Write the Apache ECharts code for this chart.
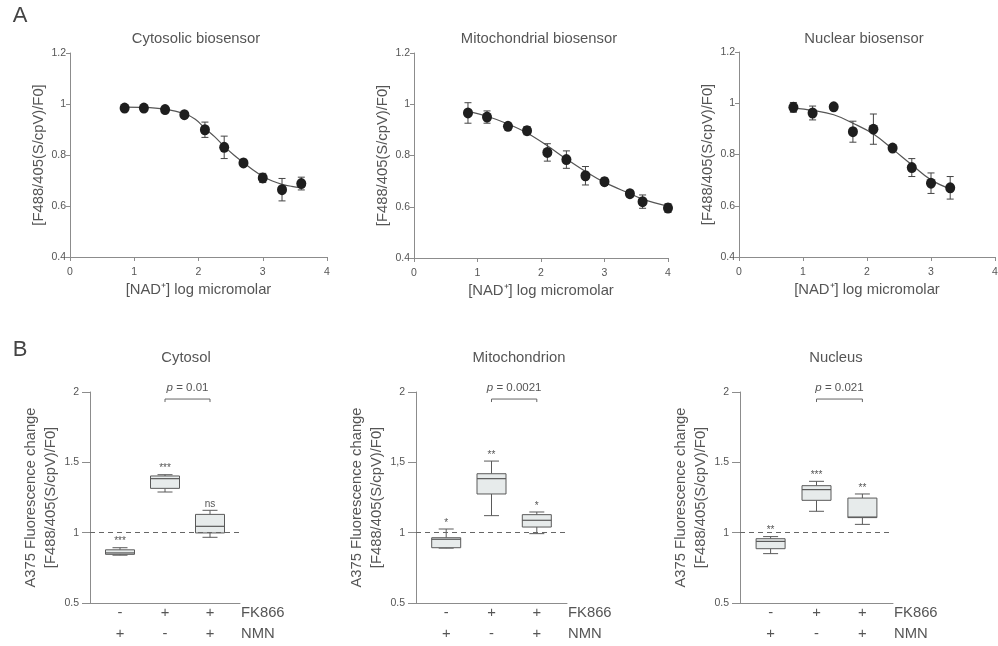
<!DOCTYPE html>
<html><head><meta charset="utf-8">
<script src="https://cdn.jsdelivr.net/npm/echarts@6/dist/echarts.min.js"></script>
<style>html,body{margin:0;padding:0;background:#fff}#c{width:998px;height:646px}</style>
</head><body><div id="c"></div>
<script>
// ---------- Panel A: dose-response data ----------
const cytoX   = [0.85, 1.15, 1.48, 1.78, 2.1, 2.4, 2.7, 3.0, 3.3, 3.6];
const cytoY   = [0.984, 0.984, 0.978, 0.958, 0.899, 0.830, 0.769, 0.710, 0.664, 0.688];
const cytoErr = [0.006, 0.006, 0.006, 0.006, 0.030, 0.044, 0.014, 0.018, 0.044, 0.025];
const cytoFitX = [0.85, 1.15, 1.48, 1.78, 1.95, 2.1, 2.25, 2.4, 2.55, 2.7, 2.85, 3.0, 3.15, 3.3, 3.45, 3.6];
const cytoFitY = [0.988, 0.987, 0.980, 0.962, 0.940, 0.905, 0.872, 0.834, 0.800, 0.770, 0.741, 0.716, 0.698, 0.685, 0.677, 0.672];

const mitoX   = [0.85, 1.15, 1.48, 1.78, 2.1, 2.4, 2.7, 3.0, 3.4, 3.6, 4.0];
const mitoY   = [0.966, 0.950, 0.914, 0.897, 0.812, 0.784, 0.721, 0.698, 0.651, 0.620, 0.595];
const mitoErr = [0.040, 0.024, 0.010, 0.016, 0.034, 0.034, 0.036, 0.014, 0.012, 0.026, 0.017];
const mitoFitX = [0.85, 1.15, 1.48, 1.78, 2.1, 2.4, 2.7, 3.0, 3.4, 3.6, 4.0];
const mitoFitY = [0.972, 0.953, 0.923, 0.888, 0.838, 0.786, 0.738, 0.695, 0.651, 0.630, 0.602];

const nucX   = [0.85, 1.15, 1.48, 1.78, 2.1, 2.4, 2.7, 3.0, 3.3];
const nucY   = [0.984, 0.962, 0.986, 0.889, 0.899, 0.825, 0.749, 0.688, 0.670];
const nucErr = [0.019, 0.027, 0.005, 0.041, 0.059, 0.008, 0.035, 0.040, 0.044];
const nucFitX = [0.85, 1.15, 1.48, 1.78, 2.1, 2.4, 2.7, 3.0, 3.3];
const nucFitY = [0.981, 0.972, 0.955, 0.922, 0.880, 0.821, 0.760, 0.701, 0.666];

const topTitles = ['Cytosolic biosensor', 'Mitochondrial biosensor', 'Nuclear biosensor'];
const xTicksTop = [0, 1, 2, 3, 4];

// ---------- Panel B: box plots [min, Q1, median, Q3, max] ----------
const cytosolBox = [[0.840, 0.846, 0.856, 0.878, 0.893], [1.289, 1.315, 1.384, 1.403, 1.412], [0.967, 0.998, 1.045, 1.130, 1.159]];
const mitoBox    = [[0.890, 0.893, 0.953, 0.964, 1.026], [1.121, 1.275, 1.384, 1.419, 1.509], [0.993, 1.040, 1.088, 1.128, 1.147]];
const nucBox     = [[0.851, 0.886, 0.938, 0.957, 0.972], [1.152, 1.230, 1.306, 1.334, 1.365], [1.059, 1.107, 1.111, 1.246, 1.275]];
const cytosolSig = ['***', '***', 'ns'];
const mitoSig    = ['*', '**', '*'];
const nucSig     = ['**', '***', '**'];
const pValues    = ['0.01', '0.0021', '0.021'];
const bottomTitles = ['Cytosol', 'Mitochondrion', 'Nucleus'];
const fk866Signs = ['-', '+', '+'];
const nmnSigns   = ['+', '-', '+'];
const groupSlot  = [2, 5, 8];

const FONT = '"Liberation Sans", Arial, sans-serif';
const TXT = '#555';
const AX = '#8c8c8c';
const FS = 14.8;

const chart = echarts.init(document.getElementById('c'));

const topGrids = [
  {left: 70, top: 53, width: 257, height: 204},
  {left: 414, top: 53, width: 254, height: 205},
  {left: 739, top: 52, width: 256, height: 205}
];
const botGrids = [
  {left: 90, top: 392, width: 150, height: 211},
  {left: 416, top: 392, width: 151, height: 211},
  {left: 740, top: 392, width: 153, height: 211}
];
const topCenters = [196, 539, 864];
const botCenters = [186, 519, 836];

const topData = [
  {x: cytoX, y: cytoY, e: cytoErr, fx: cytoFitX, fy: cytoFitY},
  {x: mitoX, y: mitoY, e: mitoErr, fx: mitoFitX, fy: mitoFitY},
  {x: nucX, y: nucY, e: nucErr, fx: nucFitX, fy: nucFitY}
];
const botData = [
  {box: cytosolBox, sig: cytosolSig},
  {box: mitoBox, sig: mitoSig},
  {box: nucBox, sig: nucSig}
];

const grid = [], xAxis = [], yAxis = [], series = [], graphic = [];

topGrids.forEach((g, i) => {
  grid.push(Object.assign({outerBoundsMode: 'none', containLabel: false}, g));
  xAxis.push({
    gridIndex: i, type: 'value', min: 0, max: 4, interval: 1,
    axisLine: {lineStyle: {color: AX, width: 1}},
    axisTick: {show: true, length: 4, lineStyle: {color: AX}},
    axisLabel: {color: TXT, fontSize: 10.5, margin: 10, fontFamily: FONT,
      formatter: v => xTicksTop.indexOf(v) >= 0 ? String(v) : ''},
    splitLine: {show: false},
    name: '[NAD\u207A] log micromolar', nameLocation: 'middle', nameGap: 25,
    nameTextStyle: {color: TXT, fontSize: FS, fontFamily: FONT}
  });
  yAxis.push({
    gridIndex: i, type: 'value', min: 0.4, max: 1.2, interval: 0.2,
    axisLine: {show: true, lineStyle: {color: AX, width: 1}},
    axisTick: {show: true, length: 4, lineStyle: {color: AX}},
    axisLabel: {color: TXT, fontSize: 10.5, margin: 4, fontFamily: FONT},
    splitLine: {show: false},
    name: '[F488/405(S/cpV)/F0]', nameLocation: 'middle', nameGap: 24,
    nameTextStyle: {color: TXT, fontSize: FS, fontFamily: FONT}
  });
  const d = topData[i];
  series.push({
    type: 'line', xAxisIndex: i, yAxisIndex: i, smooth: 0.4, showSymbol: false, silent: true,
    data: d.fx.map((v, k) => [v, d.fy[k]]),
    lineStyle: {color: '#555', width: 1.2}, z: 2
  });
  series.push({
    type: 'custom', xAxisIndex: i, yAxisIndex: i, z: 3,
    data: d.x.map((v, k) => [v, d.y[k] - d.e[k], d.y[k] + d.e[k]]),
    renderItem: (p, api) => {
      const x = api.value(0);
      const lo = api.coord([x, api.value(1)]);
      const hi = api.coord([x, api.value(2)]);
      const w = 3.5, st = {stroke: '#444', lineWidth: 1};
      return {type: 'group', children: [
        {type: 'line', shape: {x1: lo[0], y1: lo[1], x2: hi[0], y2: hi[1]}, style: st},
        {type: 'line', shape: {x1: lo[0] - w, y1: lo[1], x2: lo[0] + w, y2: lo[1]}, style: st},
        {type: 'line', shape: {x1: hi[0] - w, y1: hi[1], x2: hi[0] + w, y2: hi[1]}, style: st}
      ]};
    }
  });
  series.push({
    type: 'scatter', xAxisIndex: i, yAxisIndex: i, z: 4,
    data: d.x.map((v, k) => [v, d.y[k]]),
    symbol: 'circle', symbolSize: [10, 11],
    itemStyle: {color: '#1e1e1e', opacity: 1}
  });
  graphic.push({type: 'text', x: topCenters[i], y: 39,
    style: {text: topTitles[i], align: 'center', verticalAlign: 'middle', fontSize: FS, fontFamily: FONT, fill: TXT}});
});

botGrids.forEach((g, j) => {
  const i = j + 3;
  grid.push(Object.assign({outerBoundsMode: 'none', containLabel: false}, g));
  xAxis.push({
    gridIndex: i, type: 'value', min: 0, max: 10,
    axisLine: {lineStyle: {color: AX, width: 1}},
    axisTick: {show: false}, axisLabel: {show: false}, splitLine: {show: false}
  });
  yAxis.push({
    gridIndex: i, type: 'value', min: 0.5, max: 2, interval: 0.5,
    axisLine: {show: true, lineStyle: {color: AX, width: 1}},
    axisTick: {show: true, length: 8, lineStyle: {color: AX}},
    axisLabel: {color: TXT, fontSize: 10.5, margin: 11, fontFamily: FONT,
      formatter: v => (j === 1 && v === 1.5) ? '1,5' : String(v)},
    splitLine: {show: false},
    name: 'A375 Fluorescence change\n[F488/405(S/cpV)/F0]', nameLocation: 'middle', nameGap: 21,
    nameTextStyle: {color: TXT, fontSize: FS, fontFamily: FONT, lineHeight: 20}
  });
  const d = botData[j];
  // boxes
  series.push({
    type: 'custom', xAxisIndex: i, yAxisIndex: i, z: 3,
    data: d.box.map((b, k) => [groupSlot[k]].concat(b)),
    renderItem: (p, api) => {
      const x = api.value(0);
      const ys = [1, 2, 3, 4, 5].map(k => api.coord([x, api.value(k)])[1]);
      const cx = api.coord([x, 1])[0];
      const hw = 14.5, cw = 7.5;
      const st = {stroke: '#5a5a5a', lineWidth: 1};
      return {type: 'group', children: [
        {type: 'line', shape: {x1: cx, y1: ys[4], x2: cx, y2: ys[3]}, style: st},
        {type: 'line', shape: {x1: cx, y1: ys[1], x2: cx, y2: ys[0]}, style: st},
        {type: 'line', shape: {x1: cx - cw, y1: ys[4], x2: cx + cw, y2: ys[4]}, style: st},
        {type: 'line', shape: {x1: cx - cw, y1: ys[0], x2: cx + cw, y2: ys[0]}, style: st},
        {type: 'rect', shape: {x: cx - hw, y: ys[3], width: hw * 2, height: ys[1] - ys[3]},
          style: {fill: '#e7ebeb', stroke: '#5a5a5a', lineWidth: 1}},
        {type: 'line', shape: {x1: cx - hw, y1: ys[2], x2: cx + hw, y2: ys[2]}, style: {stroke: '#5a5a5a', lineWidth: 1.2}},
        {type: 'text', x: cx, y: ys[4] - 1,
          style: {text: d.sig[p.dataIndex], align: 'center', verticalAlign: 'bottom', fontSize: 10, fontFamily: FONT, fill: TXT}}
      ]};
    },
    markLine: {
      silent: true, symbol: ['none', 'none'], label: {show: false},
      lineStyle: {color: '#666', width: 1, type: [5, 4]},
      data: [{yAxis: 1}]
    }
  });
  // p-value bracket
  series.push({
    type: 'custom', xAxisIndex: i, yAxisIndex: i, z: 3,
    data: [[groupSlot[1], groupSlot[2], 1.95]],
    renderItem: (p, api) => {
      const a = api.coord([api.value(0), api.value(2)]);
      const b = api.coord([api.value(1), api.value(2)]);
      const st = {stroke: '#666', lineWidth: 1};
      return {type: 'group', children: [
        {type: 'line', shape: {x1: a[0], y1: a[1], x2: b[0], y2: b[1]}, style: st},
        {type: 'line', shape: {x1: a[0], y1: a[1], x2: a[0], y2: a[1] + 3}, style: st},
        {type: 'line', shape: {x1: b[0], y1: b[1], x2: b[0], y2: b[1] + 3}, style: st},
        {type: 'text', x: (a[0] + b[0]) / 2, y: a[1] - 11,
          style: {text: '{i|p} = ' + pValues[j], align: 'center', verticalAlign: 'middle',
            fontSize: 11.5, fontFamily: FONT, fill: TXT,
            rich: {i: {fontStyle: 'italic', fontSize: 11.5, fontFamily: FONT, fill: TXT}}}}
      ]};
    }
  });
  // treatment sign rows
  series.push({
    type: 'custom', xAxisIndex: i, yAxisIndex: i, z: 3,
    data: groupSlot.map(s => [s, 0.5]),
    renderItem: (p, api) => {
      const c = api.coord([api.value(0), 0.5]);
      const k = p.dataIndex;
      const ts = {align: 'center', verticalAlign: 'middle', fontSize: FS, fontFamily: FONT, fill: TXT};
      const ch = [
        {type: 'text', x: c[0], y: c[1] + 10, style: Object.assign({text: fk866Signs[k]}, ts)},
        {type: 'text', x: c[0], y: c[1] + 31, style: Object.assign({text: nmnSigns[k]}, ts)}
      ];
      if (k === groupSlot.length - 1) {
        const e = api.coord([10, 0.5]);
        ch.push({type: 'text', x: e[0] + 1, y: e[1] + 10, style: Object.assign({}, ts, {text: 'FK866', align: 'left'})});
        ch.push({type: 'text', x: e[0] + 1, y: e[1] + 31, style: Object.assign({}, ts, {text: 'NMN', align: 'left'})});
      }
      return {type: 'group', children: ch};
    }
  });
  graphic.push({type: 'text', x: botCenters[j], y: 358,
    style: {text: bottomTitles[j], align: 'center', verticalAlign: 'middle', fontSize: FS, fontFamily: FONT, fill: TXT}});
});

graphic.push({type: 'text', x: 20, y: 16, style: {text: 'A', align: 'center', verticalAlign: 'middle', fontSize: 22, fontFamily: FONT, fill: '#444'}});
graphic.push({type: 'text', x: 20, y: 350, style: {text: 'B', align: 'center', verticalAlign: 'middle', fontSize: 22, fontFamily: FONT, fill: '#444'}});

chart.setOption({
  animation: false,
  backgroundColor: '#fff',
  textStyle: {fontFamily: FONT},
  grid, xAxis, yAxis, series, graphic
});
</script>
</body></html>
